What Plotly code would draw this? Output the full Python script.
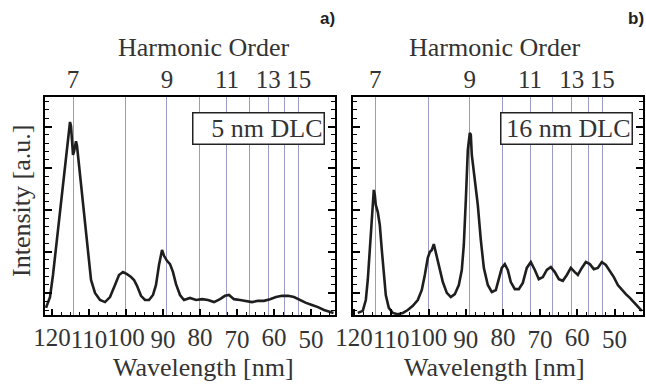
import plotly.graph_objects as go

# ---------------- data ----------------
harmonic_orders = ["7", "", "9", "", "11", "", "13", "", "15"]
harmonic_wavelengths = [114.3, 100.0, 88.9, 80.0, 72.7, 66.7, 61.5, 57.1, 53.3]

wl_tickvals = [120, 110, 100, 90, 80, 70, 60, 50]
wl_ticktext_upper = ["120", "", "100", "", "80", "", "60", ""]
wl_tickvals_lower = [110, 90, 70, 50]
wl_ticktext_lower = ["110", "90", "70", "50"]

wl_a = [121.6, 121.06, 120.52, 119.71, 118.9, 118.08, 117.27, 116.46, 115.92, 115.38,
        115.11, 114.84, 114.57, 114.3, 114.03, 113.76, 113.49, 113.22, 112.68, 111.87,
        111.06, 110.25, 109.43, 108.35, 107.0, 105.65, 104.3, 102.95, 101.87, 100.79,
        99.7, 98.62, 97.81, 97.0, 95.92, 94.84, 93.76, 92.68, 91.87, 91.06,
        90.52, 90.24, 89.7, 88.89, 88.08, 87.27, 86.46, 85.38, 84.3, 82.68,
        81.05, 79.43, 77.81, 76.19, 74.57, 73.22, 72.14, 70.79, 69.16, 67.54,
        65.92, 64.3, 62.68, 61.05, 59.43, 57.81, 56.19, 54.57, 52.95, 51.32,
        49.7, 48.08, 46.46, 44.84, 43.9]
int_a = [0.65, 0.77, 0.91, 1.44, 2.09, 2.76, 3.48, 4.13, 4.56, 4.97,
         5.11, 5.01, 4.68, 4.32, 4.40, 4.58, 4.65, 4.54, 4.08, 3.36,
         2.57, 1.85, 1.32, 1.01, 0.84, 0.79, 0.91, 1.20, 1.44, 1.51,
         1.46, 1.39, 1.32, 1.18, 0.94, 0.84, 0.84, 0.96, 1.20, 1.68,
         1.99, 2.04, 1.90, 1.78, 1.70, 1.51, 1.22, 0.96, 0.84, 0.89,
         0.84, 0.86, 0.84, 0.79, 0.86, 0.94, 0.96, 0.86, 0.84, 0.82,
         0.79, 0.82, 0.82, 0.86, 0.91, 0.94, 0.94, 0.91, 0.84, 0.77,
         0.72, 0.67, 0.60, 0.55, 0.53]

wl_b = [119.0, 117.66, 116.85, 116.32, 115.78, 115.24, 114.7, 114.43, 114.17, 113.63,
        113.09, 112.55, 112.02, 111.48, 110.67, 109.6, 108.25, 106.91, 105.56, 104.22,
        102.88, 101.8, 100.99, 100.19, 99.65, 99.11, 98.57, 98.04, 97.23, 96.15,
        95.08, 94.0, 92.93, 91.85, 91.05, 90.51, 89.97, 89.43, 88.9, 88.63,
        88.36, 87.82, 87.28, 86.75, 85.94, 85.13, 84.06, 82.98, 81.91, 81.1,
        80.3, 79.49, 78.69, 77.88, 76.8, 75.73, 74.65, 73.58, 72.5, 71.42,
        70.35, 69.27, 68.2, 67.12, 66.05, 64.97, 63.9, 62.82, 61.75, 60.67,
        59.86, 58.79, 57.71, 56.64, 55.56, 54.49, 53.41, 52.34, 51.26, 50.19,
        49.11, 48.04, 46.96, 45.89, 44.81, 43.74, 42.66]
int_b = [0.53, 0.58, 0.84, 1.32, 2.04, 2.88, 3.48, 3.36, 3.12, 2.95,
         2.64, 2.04, 1.44, 0.96, 0.65, 0.53, 0.50, 0.53, 0.60, 0.70,
         0.84, 1.08, 1.44, 1.85, 1.99, 2.04, 2.18, 1.99, 1.68, 1.27,
         1.01, 0.91, 0.98, 1.20, 1.56, 2.16, 3.24, 4.44, 4.85, 4.80,
         4.32, 3.91, 3.60, 3.12, 2.28, 1.61, 1.20, 1.03, 1.08, 1.32,
         1.61, 1.70, 1.56, 1.27, 1.10, 1.10, 1.25, 1.61, 1.75, 1.56,
         1.34, 1.39, 1.56, 1.63, 1.51, 1.34, 1.30, 1.44, 1.61, 1.51,
         1.44, 1.61, 1.75, 1.70, 1.58, 1.61, 1.75, 1.68, 1.53, 1.39,
         1.20, 1.08, 0.98, 0.89, 0.79, 0.70, 0.58]

labels = ["5 nm DLC", "16 nm DLC"]
panel_tags = ["a)", "b)"]

# ---------------- style ----------------
SERIF = "Liberation Serif"
SANS = "Liberation Sans"
TXT = "#333333"
GRID = "#9a9ac4"
range_a = [121.87, 43.48]
range_b = [120.3, 42.35]
yrange = [0.48, 5.71]

fig = go.Figure()
line_style = dict(color="#1e1e1e", width=2.6)
fig.add_trace(go.Scatter(x=wl_a, y=int_a, mode="lines", xaxis="x", yaxis="y", line=line_style))
fig.add_trace(go.Scatter(x=wl_b, y=int_b, mode="lines", xaxis="x3", yaxis="y2", line=line_style))
# invisible copies so the overlaying (top / staggered / right) axes get drawn
for xa, ya, wl, it in [("x2", "y", wl_a, int_a), ("x5", "y", wl_a, int_a), ("x", "y3", wl_a, int_a),
                       ("x4", "y2", wl_b, int_b), ("x6", "y2", wl_b, int_b), ("x3", "y4", wl_b, int_b)]:
    fig.add_trace(go.Scatter(x=wl, y=it, mode="lines", xaxis=xa, yaxis=ya,
                             opacity=0, line=dict(width=0), hoverinfo="skip"))

tick_font = dict(family=SERIF, size=25, color=TXT)


def bottom_axis(dom, rng, anchor):
    return dict(domain=dom, range=rng, anchor=anchor, side="bottom",
                tickmode="array", tickvals=wl_tickvals, ticktext=wl_ticktext_upper,
                ticks="inside", ticklen=6, tickwidth=1.5, tickcolor="black",
                tickfont=tick_font, ticklabelstandoff=-1,
                showgrid=False, zeroline=False,
                showline=True, mirror=True, linewidth=2, linecolor="black",
                minor=dict(tickmode="linear", tick0=0, dtick=2.5, ticks="inside",
                           ticklen=3, tickwidth=1.2, tickcolor="black"))


def lower_axis(dom, rng, anchor, overlay):
    # carries the staggered (lower) wavelength labels
    return dict(domain=dom, range=rng, anchor=anchor, side="bottom", overlaying=overlay,
                tickmode="array", tickvals=wl_tickvals_lower, ticktext=wl_ticktext_lower,
                ticks="outside", ticklen=6, tickwidth=1, tickcolor="rgba(0,0,0,0)",
                tickfont=tick_font, ticklabelstandoff=-4,
                showgrid=False, zeroline=False, showline=False)


def top_axis(dom, rng, anchor, overlay):
    return dict(domain=dom, range=rng, anchor=anchor, side="top", overlaying=overlay,
                tickmode="array", tickvals=harmonic_wavelengths, ticktext=harmonic_orders,
                ticks="", showline=False, zeroline=False, ticklabelstandoff=3,
                showgrid=True, gridcolor=GRID, gridwidth=1, tickfont=tick_font)


def y_axis(anchor, side="left", overlay=None):
    d = dict(domain=[0, 1], range=yrange, anchor=anchor, side=side,
             tickmode="linear", tick0=0, dtick=1,
             ticks="inside", ticklen=7, tickwidth=1.5, tickcolor="black",
             showticklabels=False, showgrid=False, zeroline=False,
             showline=True, linewidth=2, linecolor="black",
             minor=dict(tickmode="linear", tick0=0, dtick=0.2, ticks="inside",
                        ticklen=4, tickwidth=1.2, tickcolor="black"))
    if overlay:
        d["overlaying"] = overlay
    else:
        d["mirror"] = True
    return d


dom_a = [0, 0.485]
dom_b = [0.515, 1]
fig.update_layout(
    xaxis=bottom_axis(dom_a, range_a, "y"),
    xaxis5=lower_axis(dom_a, range_a, "y", "x"),
    xaxis2=top_axis(dom_a, range_a, "y", "x"),
    xaxis3=bottom_axis(dom_b, range_b, "y2"),
    xaxis6=lower_axis(dom_b, range_b, "y2", "x3"),
    xaxis4=top_axis(dom_b, range_b, "y2", "x3"),
    yaxis=y_axis("x"),
    yaxis3=y_axis("x", side="right", overlay="y"),
    yaxis2=y_axis("x3"),
    yaxis4=y_axis("x3", side="right", overlay="y2"),
)

ann = []
box_font = dict(family=SERIF, size=26, color=TXT)
for xr, yr, lab in [("x domain", "y domain", labels[0]), ("x3 domain", "y2 domain", labels[1])]:
    ann.append(dict(text=lab, xref=xr, yref=yr, x=0.9655, y=0.931,
                    xanchor="right", yanchor="top", showarrow=False, align="right",
                    width=128, height=28, borderpad=1, bordercolor="#222222", borderwidth=1.5,
                    bgcolor="white", font=box_font))

title_font = dict(family=SERIF, size=26, color=TXT)
for xc in [0.265, 0.751]:
    ann.append(dict(text="Harmonic Order", xref="paper", yref="paper", x=xc, y=1.229,
                    xanchor="center", yanchor="middle", showarrow=False, font=title_font))
    ann.append(dict(text="Wavelength [nm]", xref="paper", yref="paper", x=xc, y=-0.243,
                    xanchor="center", yanchor="middle", showarrow=False, font=title_font))
ann.append(dict(text="Intensity [a.u.]", xref="paper", yref="paper", x=-0.0385, y=0.523,
                xanchor="center", yanchor="middle", showarrow=False, textangle=-90,
                font=title_font))
for xc, tag in zip([0.4724, 0.989], panel_tags):
    ann.append(dict(text="<b>%s</b>" % tag, xref="paper", yref="paper", x=xc, y=1.362,
                    xanchor="center", yanchor="middle", showarrow=False,
                    font=dict(family=SANS, size=17, color="#222222")))

fig.update_layout(
    annotations=ann,
    width=646, height=384,
    margin=dict(l=45, r=3, t=97, b=69, autoexpand=False),
    paper_bgcolor="white", plot_bgcolor="white",
    showlegend=False,
)

# remove the default 8px page margin so the 646x384 figure fills the window exactly
fig.write_html("out.html",
               config={"displayModeBar": False},
               post_script="document.body.style.margin='0';document.body.style.overflow='hidden';")
